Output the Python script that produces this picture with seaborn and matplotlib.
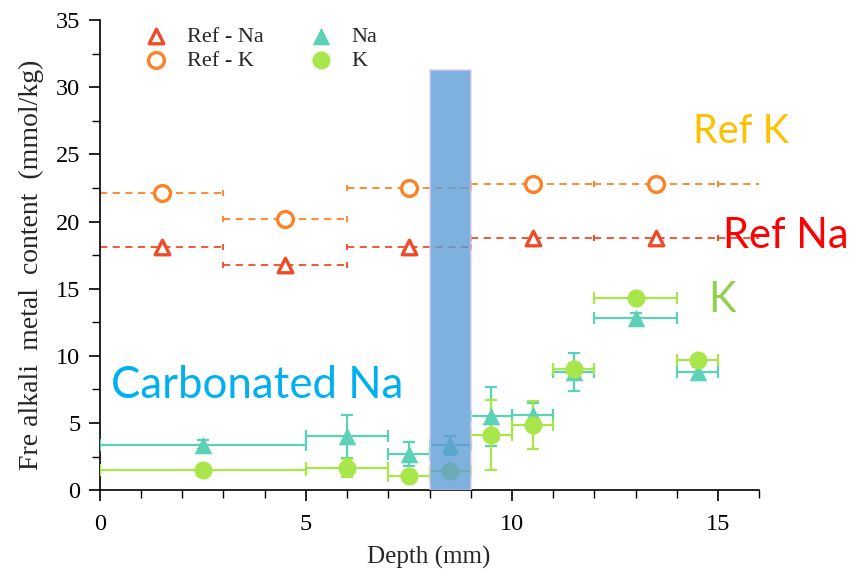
import matplotlib
matplotlib.use("Agg")
import matplotlib.pyplot as plt
import seaborn as sns
import numpy as np
import pandas as pd
from matplotlib.ticker import MultipleLocator
from matplotlib.patches import Rectangle

# ---- data ----
ref_x = [1.5, 4.5, 7.5, 10.5, 13.5, 16.5]
ref_xerr = [1.5, 1.5, 1.5, 1.5, 1.5, 1.5]
ref_na = [18.1, 16.8, 18.1, 18.8, 18.8, 18.8]
ref_k = [22.1, 20.2, 22.5, 22.8, 22.8, 22.8]

x = [2.5, 6.0, 7.5, 8.5, 9.5, 10.5, 11.5, 13.0, 14.5]
xerr = [2.5, 1.0, 0.5, 0.5, 0.5, 0.5, 0.5, 1.0, 0.5]
na = [3.4, 4.0, 2.7, 3.35, 5.5, 5.6, 8.8, 12.8, 8.8]
na_err = [0.3, 1.6, 0.9, 0.7, 2.2, 0.9, 1.4, 0.4, 0.4]
k = [1.5, 1.65, 1.05, 1.4, 4.1, 4.85, 9.0, 14.3, 9.7]
k_err = [0.2, 0.7, 0.4, 0.2, 2.6, 1.8, 0.5, 0.3, 0.2]

c_refna = "#EE4B2B"
c_refk = "#FF8125"
c_na = "#5BD1B5"
c_k = "#A9E64B"

sns.set_style("white")
plt.rcParams["font.family"] = ["Liberation Serif", "DejaVu Serif"]

fig = plt.figure(figsize=(8.6, 5.76), dpi=100)
ax = fig.add_axes([0.116, 0.149, 0.767, 0.816])

ax.set_xlim(0, 16)
ax.set_ylim(0, 35)

# reference dashed error bars
for yv, col in [(ref_na, c_refna), (ref_k, c_refk)]:
    eb = ax.errorbar(ref_x, yv, xerr=ref_xerr, fmt="none", ecolor=col,
                     elinewidth=1.3, capsize=2.5, capthick=1.3, zorder=2)
    eb[2][0].set_linestyle((0, (4, 3)))

# sample error bars
ax.errorbar(x, na, xerr=xerr, yerr=na_err, fmt="none", ecolor=c_na,
            elinewidth=1.6, capsize=4.5, capthick=1.6, zorder=3)
ax.errorbar(x, k, xerr=xerr, yerr=k_err, fmt="none", ecolor=c_k,
            elinewidth=1.6, capsize=4.5, capthick=1.6, zorder=3)

df_ref = pd.DataFrame({"x": ref_x, "na": ref_na, "k": ref_k})
df = pd.DataFrame({"x": x, "na": na, "k": k})

sns.scatterplot(data=df_ref, x="x", y="na", marker="^", s=110,
                facecolor="white", edgecolor=c_refna, linewidth=2.4,
                ax=ax, zorder=4, label="Ref - Na")
sns.scatterplot(data=df_ref, x="x", y="k", marker="o", s=130,
                facecolor="white", edgecolor=c_refk, linewidth=2.4,
                ax=ax, zorder=4, label="Ref - K")
sns.scatterplot(data=df, x="x", y="na", marker="^", s=160,
                color=c_na, edgecolor=c_na, linewidth=0,
                ax=ax, zorder=5, label="Na")
sns.scatterplot(data=df, x="x", y="k", marker="o", s=170,
                color=c_k, edgecolor=c_k, linewidth=0,
                ax=ax, zorder=5, label="K")

# carbonated zone band
ax.add_patch(Rectangle((8, 0), 1, 31.3, facecolor="#5B9BD5", alpha=0.78,
                       edgecolor="#E8C8F0", linewidth=1.2, zorder=6))

# annotations
sans = ["Lato", "DejaVu Sans"]
ax.text(14.4, 25.85, "Ref K", color="#FFC000", fontsize=28.5,
        family=sans, va="baseline", ha="left")
ax.text(15.12, 18.0, "Ref Na", color="#FF0000", fontsize=30,
        family=sans, va="baseline", ha="left")
ax.text(14.75, 13.3, "K", color="#92D050", fontsize=30,
        family=sans, va="baseline", ha="left")
ax.text(0.28, 6.85, "Carbonated Na", color="#00B0F0", fontsize=31.5,
        family=sans, va="baseline", ha="left")

# axes styling
for s in ["top", "right"]:
    ax.spines[s].set_visible(False)
for s in ["left", "bottom"]:
    ax.spines[s].set_color("black")
    ax.spines[s].set_linewidth(1.2)

ax.xaxis.set_major_locator(MultipleLocator(5))
ax.xaxis.set_minor_locator(MultipleLocator(1))
ax.yaxis.set_major_locator(MultipleLocator(5))
ax.yaxis.set_minor_locator(MultipleLocator(2.5))
ax.tick_params(which="major", direction="out", length=8, width=1.2,
               labelsize=17.5, colors="black", left=True, bottom=True)
ax.tick_params(which="minor", direction="out", length=6, width=1.0,
               left=True, bottom=True, colors="black")
ax.tick_params(axis="x", pad=9)
ax.tick_params(axis="y", pad=6)

ax.set_xlabel("Depth (mm)", fontsize=18)
ax.set_ylabel("Fre alkali  metal  content  (mmol/kg)", fontsize=20)
ax.xaxis.set_label_coords(0.498, -0.118)
ax.yaxis.set_label_coords(-0.085, 0.479)

leg = ax.legend(loc="upper left", bbox_to_anchor=(0.028, 1.03), ncol=2,
                frameon=False, fontsize=16, columnspacing=1.75,
                handletextpad=0.6, labelspacing=0.15, handlelength=1.6)

fig.savefig("out.png", dpi=100)
